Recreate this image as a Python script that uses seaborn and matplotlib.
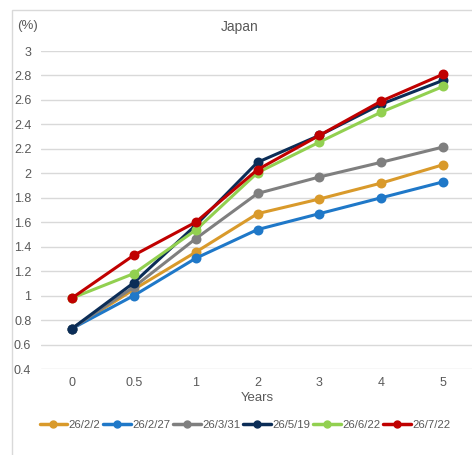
import seaborn as sns
import pandas as pd
import matplotlib.pyplot as plt
from matplotlib.lines import Line2D
from matplotlib.patches import Rectangle

# tenors on the x axis (categorical) and the curve dates
years = ["0", "0.5", "1", "2", "3", "4", "5"]
dates = ["26/2/2", "26/2/27", "26/3/31", "26/5/19", "26/6/22", "26/7/22"]
colors = ["#D99A2B", "#1F78C8", "#7F7F7F", "#0B2D57", "#92D050", "#C00000"]

y_2602_02 = [0.73, 1.05, 1.355, 1.67, 1.79, 1.92, 2.07]
y_2602_27 = [0.73, 1.00, 1.305, 1.54, 1.67, 1.80, 1.93]
y_2603_31 = [0.73, 1.07, 1.465, 1.835, 1.97, 2.09, 2.215]
y_2605_19 = [0.73, 1.105, 1.575, 2.09, 2.31, 2.565, 2.76]
y_2606_22 = [0.98, 1.18, 1.535, 2.005, 2.255, 2.50, 2.71]
y_2607_22 = [0.98, 1.33, 1.60, 2.03, 2.31, 2.59, 2.81]

series = [y_2602_02, y_2602_27, y_2603_31, y_2605_19, y_2606_22, y_2607_22]

rows = []
for d, vals in zip(dates, series):
    for x, v in zip(years, vals):
        rows.append({"Years": x, "value": v, "date": d})
df = pd.DataFrame(rows)

sns.set_style("white")
plt.rcParams["font.family"] = ["Liberation Sans", "DejaVu Sans"]
txt = "#595959"

fig = plt.figure(figsize=(4.72, 4.55), dpi=100)
# light outer chart frame
fig.patches.append(Rectangle((12 / 472, -0.1), 1.2, 1.1 - 10 / 455,
                             transform=fig.transFigure, fill=False,
                             edgecolor="#D9D9D9", linewidth=1.0))

ax = fig.add_axes([41 / 472, 1 - 369 / 455, 433 / 472, 318 / 455])

sns.pointplot(data=df, x="Years", y="value", hue="date", order=years,
              hue_order=dates, palette=colors, markers="o", linestyles="-",
              errorbar=None, markersize=5.5, linewidth=2.2, ax=ax)
if ax.get_legend() is not None:
    ax.get_legend().remove()

ax.set_ylim(0.4, 3.0)
ax.set_xlim(-0.5, 6.5)
ax.set_yticks([0.4 + 0.2 * i for i in range(14)])
ax.set_yticklabels(["0.4", "0.6", "0.8", "1", "1.2", "1.4", "1.6", "1.8",
                    "2", "2.2", "2.4", "2.6", "2.8", "3"])
ax.yaxis.grid(True, color="#D9D9D9", linewidth=1.0)
ax.set_axisbelow(True)
for s in ax.spines.values():
    s.set_visible(False)
ax.tick_params(axis="both", length=0, labelsize=9, labelcolor=txt)
ax.tick_params(axis="y", pad=7)
ax.tick_params(axis="x", pad=6)
ax.set_ylabel("")
ax.set_xlabel("Years", fontsize=9.5, color=txt, labelpad=2)

fig.text(27 / 472, 1 - 26 / 455, "(%)", fontsize=9.5, color=txt,
         ha="center", va="center")
fig.text(240 / 472, 1 - 27 / 455, "Japan", fontsize=10, color=txt,
         ha="center", va="center")

handles = [Line2D([0], [0], color=c, linewidth=2.5, marker="o", markersize=5)
           for c in colors]
fig.legend(handles, dates, loc="center", bbox_to_anchor=(245 / 472, 1 - 425 / 455),
           ncol=6, frameon=False, fontsize=8.2, handlelength=2.4,
           handletextpad=0.15, columnspacing=0.25, labelcolor=txt)

fig.savefig("out.png", dpi=100)
